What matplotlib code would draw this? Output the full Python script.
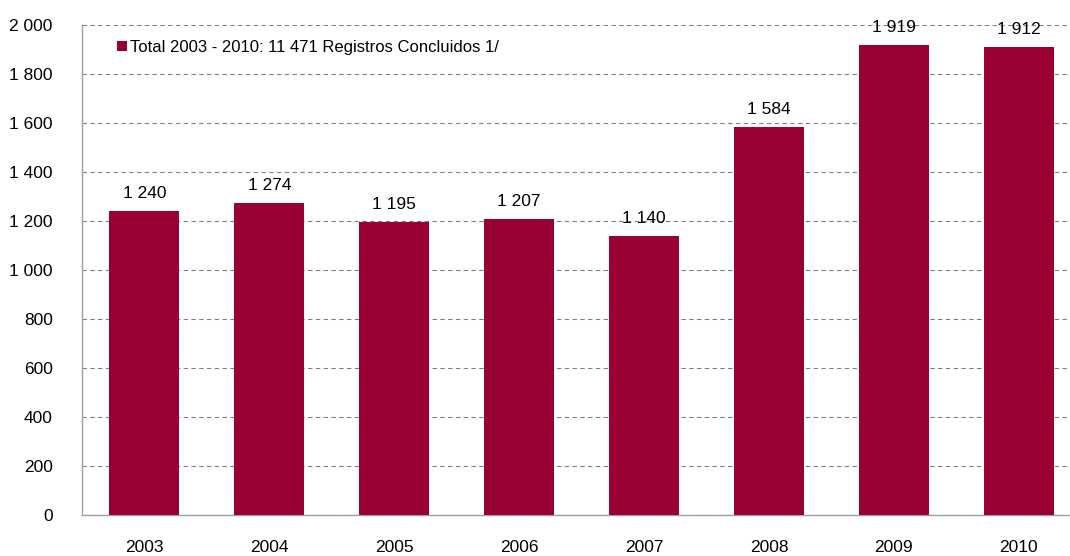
import matplotlib.pyplot as plt
import numpy as np

years = ['2003', '2004', '2005', '2006', '2007', '2008', '2009', '2010']
registros = [1240, 1274, 1195, 1207, 1140, 1584, 1919, 1912]
legend_label = 'Total 2003 - 2010: 11 471 Registros Concluidos 1/'

plt.rcParams['font.family'] = ['Liberation Sans', 'DejaVu Sans']

def fmt(v):
    return '{:,}'.format(int(v)).replace(',', ' ')

fig = plt.figure(figsize=(10.7, 5.56), dpi=100)
ax = fig.add_axes([82/1070, 41/556, 988/1070, 490/556])

x = np.arange(len(years))
bars = ax.bar(x, registros, width=0.56, color='#990033', label=legend_label, zorder=3)

for xi, v in zip(x, registros):
    ax.text(xi, v + 40, fmt(v), ha='center', va='bottom', fontsize=12.5, color='black', zorder=4)

ax.set_ylim(0, 2000)
ax.set_xlim(-0.5, 7.41)
ax.set_yticks(range(0, 2001, 200))
ax.set_yticklabels([fmt(v) for v in range(0, 2001, 200)], fontsize=12.5)
ax.set_xticks(x)
ax.set_xticklabels(years, fontsize=12.5)
ax.tick_params(axis='both', length=0)
ax.tick_params(axis='y', pad=21)
ax.tick_params(axis='x', pad=18)

ax.yaxis.grid(True, linestyle=(0, (4, 3)), color='#808080', linewidth=0.8, zorder=0)
for s in ['top', 'right']:
    ax.spines[s].set_visible(False)
for s in ['left', 'bottom']:
    ax.spines[s].set_color('#a0a0a0')
    ax.spines[s].set_linewidth(1)

ax.legend(loc='upper left', bbox_to_anchor=(0.02, 1.0), frameon=False, fontsize=12,
          handlelength=0.6, handleheight=0.6, handletextpad=0.2)

fig.savefig('out.png', dpi=100)
